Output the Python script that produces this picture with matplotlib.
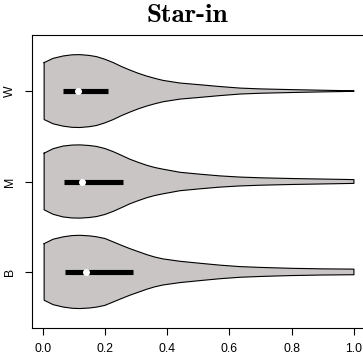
import matplotlib
matplotlib.use('Agg')
import matplotlib.pyplot as plt

# ------------------------------------------------------------------
# data
# ------------------------------------------------------------------
groups = ['B', 'M', 'W']

# violin outline: value along x, half width (in category units)
grid = [0.005, 0.034, 0.066, 0.095, 0.12, 0.15, 0.173, 0.20, 0.227, 0.253,
        0.28, 0.307, 0.334, 0.36, 0.387, 0.441, 0.505, 0.57, 0.634, 0.70,
        0.80, 0.90, 1.0]

half_B = [0.313, 0.362, 0.388, 0.402, 0.405, 0.399, 0.389, 0.370, 0.332, 0.295,
          0.258, 0.225, 0.192, 0.165, 0.144, 0.118, 0.096, 0.075, 0.059, 0.050,
          0.040, 0.034, 0.031]
half_M = [0.313, 0.363, 0.392, 0.403, 0.405, 0.398, 0.388, 0.365, 0.330, 0.290,
          0.247, 0.212, 0.180, 0.155, 0.136, 0.102, 0.081, 0.062, 0.049, 0.041,
          0.033, 0.027, 0.021]
half_W = [0.315, 0.362, 0.388, 0.401, 0.403, 0.394, 0.381, 0.352, 0.315, 0.272,
          0.233, 0.197, 0.166, 0.141, 0.118, 0.089, 0.070, 0.050, 0.033, 0.024,
          0.016, 0.009, 0.003]

q1 = [0.072, 0.068, 0.064]
q3 = [0.289, 0.259, 0.209]
med = [0.138, 0.128, 0.115]

xticks = [0.0, 0.2, 0.4, 0.6, 0.8, 1.0]

# ------------------------------------------------------------------
# figure
# ------------------------------------------------------------------
W, H = 363, 358
fig = plt.figure(figsize=(W / 100, H / 100), dpi=100)
left, right, top, bottom = 32.3, 366.4, 35, 328
ax = fig.add_axes([left / W, 1 - bottom / H, (right - left) / W, (bottom - top) / H])

fill_col = '#c9c5c5'
halves = [half_B, half_M, half_W]
for i, hw in enumerate(halves):
    pos = i + 1
    lo = [pos - h for h in hw]
    hi = [pos + h for h in hw]
    ax.fill_between(grid, lo, hi, facecolor=fill_col, edgecolor='none', zorder=1)
    # outline as one closed polygon
    xs = grid + grid[::-1] + [grid[0]]
    ys = hi + lo[::-1] + [hi[0]]
    ax.plot(xs, ys, color='black', lw=0.8, zorder=2, solid_joinstyle='round')
    ax.plot([q1[i], q3[i]], [pos, pos], color='black', lw=3.7,
            solid_capstyle='butt', zorder=3)
    ax.plot([med[i]], [pos], marker='o', ms=4.0, mfc='white', mec='white',
            ls='none', zorder=4)

ax.set_xlim(-0.033, 1.04)
ax.set_ylim(0.38, 3.62)

ax.set_xticks(xticks)
ax.set_xticklabels(['%.1f' % t for t in xticks])
ax.set_yticks([1, 2, 3])
ax.set_yticklabels(groups, rotation=90, va='center')

ax.tick_params(axis='both', direction='out', length=5, width=0.8,
               labelsize=8.8, colors='black')
ax.tick_params(axis='x', pad=6)
ax.tick_params(axis='y', pad=7)
for lab in ax.get_xticklabels() + ax.get_yticklabels():
    lab.set_fontfamily('Liberation Sans')

ax.spines['right'].set_visible(False)
for s in ax.spines.values():
    s.set_linewidth(0.8)
    s.set_color('black')

fig.text(187.5 / W, 1 - 16 / H, 'Star-in', ha='center', va='center',
         fontfamily='cmb10', fontsize=19.5)

fig.savefig('out.png', dpi=100)
